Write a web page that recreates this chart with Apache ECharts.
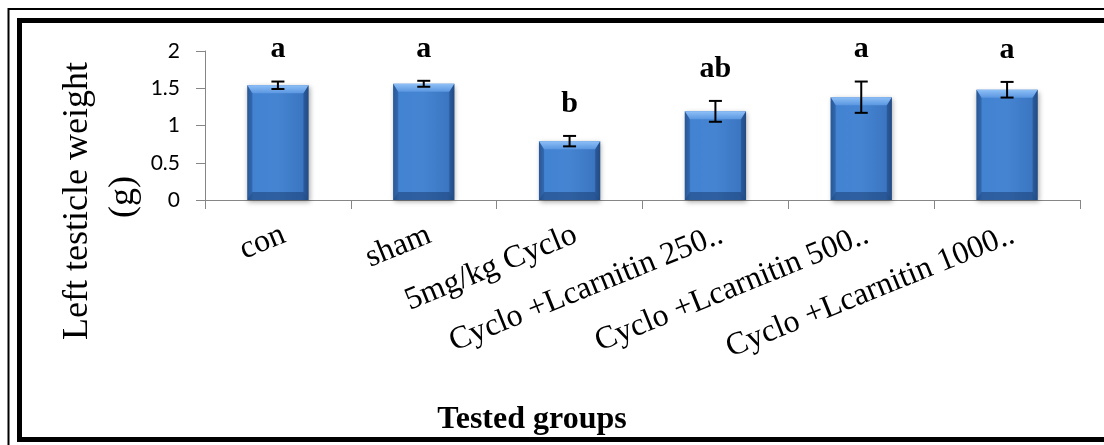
<!DOCTYPE html>
<html>
<head>
<meta charset="utf-8">
<script src="https://cdn.jsdelivr.net/npm/echarts@6/dist/echarts.min.js"></script>
<style>
  html, body { margin: 0; padding: 0; background: #ffffff; }
  #chart { width: 1104px; height: 445px; }
</style>
</head>
<body>
<div id="chart"></div>
<script>
// Left testicle weight per treatment group (mean ± SE) with significance letters
const categories = ['con', 'sham', '5mg/kg Cyclo', 'Cyclo +Lcarnitin 250..', 'Cyclo +Lcarnitin 500..', 'Cyclo +Lcarnitin 1000..'];
const meanWeight = [1.54, 1.56, 0.79, 1.19, 1.38, 1.48];
const stdError = [0.05, 0.04, 0.07, 0.14, 0.21, 0.105];
const groupLetters = ['a', 'a', 'b', 'ab', 'a', 'a'];
const yTicks = [0, 0.5, 1, 1.5, 2];

const chart = echarts.init(document.getElementById('chart'), null, { renderer: 'canvas' });

const serif = '"Liberation Serif", "Times New Roman", serif';

// Bevelled blue column, like an office-style 3D bar
function renderBar(params, api) {
  const i = api.value(0);
  const v = api.value(1);
  const base = api.coord([i, 0]);
  const top = api.coord([i, v]);
  const band = api.size([1, 0])[0];
  const w = band * 0.42;
  const x = top[0] - w / 2;
  const y = top[1];
  const h = base[1] - top[1];
  const b = 8;
  const s = 5;
  return {
    type: 'group',
    children: [
      {
        type: 'rect',
        shape: { x: x, y: y, width: w, height: h },
        style: {
          fill: new echarts.graphic.LinearGradient(0, 0, 1, 0, [
            { offset: 0, color: '#2f62a3' },
            { offset: 0.1, color: '#4283d2' },
            { offset: 0.5, color: '#4584d1' },
            { offset: 0.9, color: '#3b76c2' },
            { offset: 1, color: '#2b5a96' }
          ]),
          shadowBlur: 5,
          shadowColor: 'rgba(0,0,0,0.35)',
          shadowOffsetX: 1,
          shadowOffsetY: 2
        }
      },
      {
        type: 'polygon',
        shape: { points: [[x, y], [x + w, y], [x + w - s, y + b], [x + s, y + b]] },
        style: {
          fill: new echarts.graphic.LinearGradient(0, 0, 0, 1, [
            { offset: 0, color: '#8fc0f7' },
            { offset: 1, color: '#5a96e0' }
          ])
        }
      },
      {
        type: 'polygon',
        shape: { points: [[x, y], [x + s, y + b], [x + s, y + h - b], [x, y + h]] },
        style: { fill: 'rgba(30,70,130,0.35)' }
      },
      {
        type: 'polygon',
        shape: { points: [[x + w, y], [x + w, y + h], [x + w - s, y + h - b], [x + w - s, y + b]] },
        style: { fill: 'rgba(20,50,100,0.35)' }
      },
      {
        type: 'polygon',
        shape: { points: [[x, y + h], [x + w, y + h], [x + w - s, y + h - b], [x + s, y + h - b]] },
        style: { fill: 'rgba(20,50,100,0.45)' }
      }
    ]
  };
}

// Error bar with caps, and the group letter above it
function renderError(params, api) {
  const i = api.value(0);
  const v = api.value(1);
  const e = api.value(2);
  const hi = api.coord([i, v + e]);
  const lo = api.coord([i, v - e]);
  const cap = 6.5;
  const line = { stroke: '#000000', lineWidth: 2 };
  return {
    type: 'group',
    children: [
      { type: 'line', shape: { x1: hi[0], y1: hi[1], x2: lo[0], y2: lo[1] }, style: line },
      { type: 'line', shape: { x1: hi[0] - cap, y1: hi[1], x2: hi[0] + cap, y2: hi[1] }, style: line },
      { type: 'line', shape: { x1: lo[0] - cap, y1: lo[1], x2: lo[0] + cap, y2: lo[1] }, style: line },
      {
        type: 'text',
        x: hi[0],
        y: hi[1] - 17,
        style: {
          text: groupLetters[params.dataIndex],
          fill: '#000000',
          fontFamily: serif,
          fontWeight: 'bold',
          fontSize: 30,
          align: 'center',
          verticalAlign: 'bottom'
        }
      }
    ]
  };
}

const barData = categories.map((c, i) => [i, meanWeight[i]]);
const errData = categories.map((c, i) => [i, meanWeight[i], stdError[i]]);

const option = {
  backgroundColor: '#ffffff',
  animation: false,
  grid: { left: 205, right: 24, top: 51, bottom: 245, containLabel: false },
  xAxis: {
    type: 'category',
    data: categories,
    axisLine: { lineStyle: { color: '#868686', width: 1 } },
    axisTick: { show: true, length: 9, lineStyle: { color: '#868686' } },
    axisLabel: {
      interval: 0,
      rotate: 22,
      margin: 19,
      verticalAlign: 'top',
      color: '#000000',
      fontFamily: serif,
      fontSize: 32
    },
    splitLine: { show: false }
  },
  yAxis: {
    type: 'value',
    min: yTicks[0],
    max: yTicks[yTicks.length - 1],
    interval: yTicks[1] - yTicks[0],
    axisLine: { show: true, lineStyle: { color: '#868686', width: 1 } },
    axisTick: { show: true, length: 9, lineStyle: { color: '#868686' } },
    axisLabel: {
      margin: 25,
      color: '#000000',
      fontFamily: 'Lato, "Open Sans", sans-serif',
      fontSize: 21
    },
    splitLine: { show: false }
  },
  series: [
    {
      type: 'custom',
      renderItem: renderBar,
      data: barData,
      encode: { x: 0, y: 1 },
      clip: false,
      z: 2
    },
    {
      type: 'custom',
      renderItem: renderError,
      data: errData,
      encode: { x: 0, y: 1 },
      clip: false,
      z: 3
    }
  ],
  graphic: [
    {
      type: 'rect',
      silent: true,
      shape: { x: 8.5, y: 9, width: 1120, height: 460 },
      style: { fill: 'none', stroke: '#000000', lineWidth: 2 }
    },
    {
      type: 'rect',
      silent: true,
      shape: { x: 19.5, y: 20.5, width: 1110, height: 419 },
      style: { fill: 'none', stroke: '#000000', lineWidth: 5 }
    },
    {
      type: 'text',
      x: 78,
      y: 201,
      rotation: Math.PI / 2,
      style: {
        text: 'Left testicle weight',
        fill: '#000000',
        fontFamily: serif,
        fontSize: 36,
        align: 'center',
        verticalAlign: 'middle'
      }
    },
    {
      type: 'text',
      x: 124,
      y: 197,
      rotation: Math.PI / 2,
      style: {
        text: '(g)',
        fill: '#000000',
        fontFamily: serif,
        fontSize: 36,
        align: 'center',
        verticalAlign: 'middle'
      }
    },
    {
      type: 'text',
      x: 532,
      y: 420,
      style: {
        text: 'Tested groups',
        fill: '#000000',
        fontFamily: serif,
        fontWeight: 'bold',
        fontSize: 32,
        align: 'center',
        verticalAlign: 'middle'
      }
    }
  ]
};

chart.setOption(option);
</script>
</body>
</html>
